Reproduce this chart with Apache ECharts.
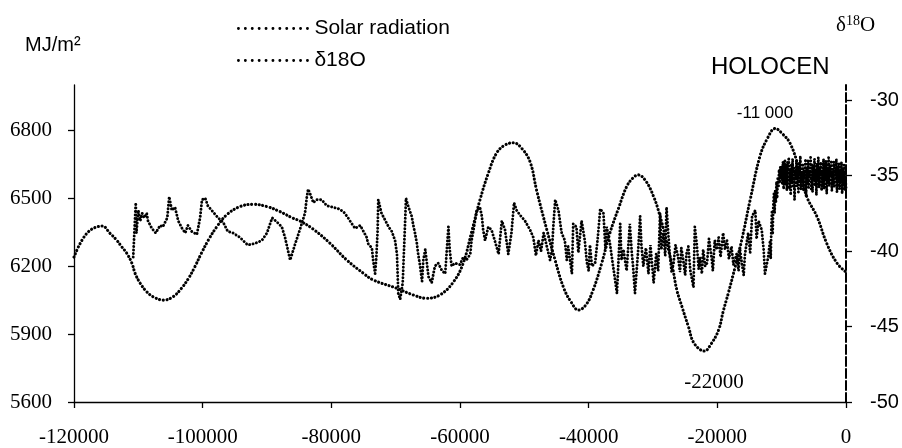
<!DOCTYPE html>
<html>
<head>
<meta charset="utf-8">
<script src="https://cdn.jsdelivr.net/npm/echarts@6/dist/echarts.min.js"></script>
<style>
  html, body { margin: 0; padding: 0; background: #fff; }
  #chart { width: 902px; height: 448px; }
</style>
</head>
<body>
<div id="chart"></div>
<script>
// Time axis (years before present)
const yearMin = -120000;
const yearMax = 0;
const yearStep = 20000;

// Left axis: solar radiation, MJ/m²
const radiationMin = 5600;
const radiationMax = 7000;
const radiationTicks = [5600, 5900, 6200, 6500, 6800];

// Right axis: δ18O, ‰
const isotopeMin = -50;
const isotopeMax = -29;
const isotopeTicks = [-50, -45, -40, -35, -30];

// Solar radiation curve [year, MJ/m²]
const solarRadiation = [
  [-120000, 6240], [-118000, 6345], [-115600, 6377], [-114400, 6345], [-113400, 6316],
  [-112600, 6286], [-111800, 6257], [-111000, 6213], [-110500, 6168], [-109700, 6124],
  [-108700, 6087], [-107700, 6065], [-106100, 6050], [-104600, 6065], [-103300, 6102],
  [-102200, 6146], [-101200, 6198], [-100200, 6257], [-99100, 6316], [-97800, 6374],
  [-96300, 6426], [-94200, 6463], [-92100, 6473], [-90000, 6463], [-88000, 6441],
  [-85900, 6411], [-84900, 6400], [-82800, 6363], [-80200, 6301], [-77600, 6227],
  [-75000, 6168], [-73500, 6139], [-69800, 6102], [-67300, 6073], [-65200, 6058],
  [-63100, 6073], [-61000, 6131], [-59500, 6213], [-58200, 6350], [-56900, 6492],
  [-55600, 6610], [-54300, 6700], [-53000, 6735], [-51700, 6745], [-50400, 6720],
  [-49100, 6660], [-48100, 6536], [-46500, 6360], [-45200, 6225], [-43900, 6105],
  [-42700, 6040], [-41600, 6006], [-40400, 6030], [-39300, 6095], [-38000, 6210],
  [-36700, 6346], [-35300, 6460], [-34100, 6551], [-33100, 6590], [-32300, 6603],
  [-31100, 6575], [-29900, 6507], [-29000, 6430], [-28000, 6320], [-27000, 6200],
  [-26300, 6095], [-25500, 6021], [-24500, 5933], [-23600, 5859], [-22000, 5825],
  [-21000, 5855], [-19800, 5918], [-19100, 5999], [-18300, 6080], [-17200, 6200],
  [-16200, 6316], [-14900, 6492], [-13400, 6683], [-12200, 6765], [-11000, 6808],
  [-9900, 6785], [-8700, 6743], [-7400, 6640], [-6100, 6507], [-4500, 6418],
  [-3000, 6301], [-1400, 6213], [0, 6174]
];

// δ18O record, glacial part [year, ‰]
const isotopeGlacial = [
  [-110800, -40.4], [-110400, -36.8], [-110300, -38.8], [-110000, -37.3], [-109700, -38.0],
  [-109400, -37.5], [-109100, -37.8], [-108700, -37.5], [-108500, -38.0], [-107900, -38.5],
  [-107300, -38.8], [-106600, -38.3], [-106200, -38.4], [-105500, -37.8], [-105200, -36.4],
  [-104800, -37.3], [-104300, -37.1], [-103800, -38.0], [-103200, -38.5], [-102700, -38.8],
  [-102300, -38.3], [-101700, -38.7], [-100900, -38.9], [-100400, -37.8], [-100100, -36.6],
  [-99600, -36.5], [-99200, -37.0], [-98400, -37.4], [-97600, -37.8], [-96800, -38.1],
  [-96100, -38.7], [-95300, -38.8], [-94200, -39.1], [-93000, -39.6], [-91900, -39.5],
  [-90800, -39.3], [-90000, -38.8], [-89200, -37.8], [-88400, -38.1], [-87700, -38.4],
  [-87200, -39.1], [-86400, -40.6], [-85600, -39.5], [-84900, -38.6], [-84100, -37.5],
  [-83800, -36.4], [-83600, -35.9], [-83300, -36.2], [-82800, -36.8], [-82300, -36.6],
  [-81500, -36.6], [-80700, -37.0], [-79700, -37.1], [-78900, -37.2], [-78100, -37.4],
  [-77400, -37.8], [-76800, -38.2], [-76300, -38.5], [-75500, -38.3], [-75000, -38.7],
  [-74500, -39.1], [-74300, -39.5], [-73700, -39.8], [-73500, -40.6], [-73200, -41.5],
  [-73000, -40.4], [-72800, -38.6], [-72700, -36.6], [-72200, -37.5], [-71700, -37.9],
  [-71100, -38.4], [-70600, -38.7], [-70100, -39.3], [-69800, -40.2], [-69700, -41.5],
  [-69600, -42.8], [-69300, -43.2], [-68900, -42.1], [-68700, -39.9], [-68500, -37.7],
  [-68400, -36.5], [-68000, -37.1], [-67500, -37.7], [-67300, -38.2], [-67000, -38.8],
  [-66700, -39.5], [-66500, -40.2], [-66200, -41.0], [-65900, -42.0], [-65700, -40.6],
  [-65400, -39.9], [-65200, -40.6], [-64900, -41.7], [-64400, -42.1], [-63900, -41.0],
  [-63400, -40.8], [-62800, -41.3], [-62300, -41.5], [-61800, -38.4], [-61600, -39.9],
  [-61300, -41.0], [-60800, -40.8], [-60000, -40.9], [-59500, -40.4], [-59000, -40.6],
  [-58400, -40.2], [-58200, -39.3], [-57900, -38.6], [-57400, -37.3], [-56900, -37.1],
  [-56600, -37.7], [-56400, -38.6], [-56100, -39.3], [-55600, -38.4], [-55100, -38.6],
  [-54600, -39.3], [-54000, -40.2], [-53500, -38.0], [-53000, -38.6], [-52500, -40.2],
  [-52000, -38.8], [-51600, -36.8], [-51200, -37.3], [-50700, -37.6], [-49900, -38.0],
  [-49100, -38.6], [-48600, -39.1], [-48200, -40.3], [-47800, -39.3], [-47400, -40.0],
  [-47000, -38.8], [-46500, -39.7], [-46000, -40.6], [-45700, -39.9], [-45500, -38.4],
  [-45200, -36.6], [-44700, -37.3], [-44200, -38.8], [-43700, -39.3], [-43400, -40.6],
  [-43200, -39.7], [-42600, -41.5], [-42400, -38.2], [-41900, -38.4], [-41600, -40.1],
  [-41300, -38.8], [-41100, -38.0], [-40600, -39.3], [-40300, -40.7], [-40000, -41.3],
  [-39800, -39.6], [-39500, -41.0], [-39000, -40.8], [-38600, -39.2], [-38200, -37.2],
  [-37700, -37.5], [-37400, -39.8], [-37200, -38.4], [-36700, -39.5], [-36200, -41.0],
  [-35600, -42.8], [-35100, -38.2], [-34900, -40.6], [-34600, -39.9], [-34100, -41.3],
  [-33600, -38.2], [-33300, -40.1], [-33100, -41.0], [-32800, -42.8], [-32300, -39.9],
  [-32000, -37.7], [-31800, -39.6], [-31500, -41.0], [-31100, -39.8], [-30700, -41.5],
  [-30400, -39.6], [-29900, -42.1], [-29500, -40.2], [-29200, -41.3], [-28900, -37.5],
  [-28700, -39.9], [-28400, -38.8], [-28100, -40.3], [-27900, -37.1], [-27600, -39.0],
  [-27400, -40.2], [-27100, -41.4], [-26800, -40.8], [-26500, -39.6], [-26100, -40.4],
  [-25800, -41.4], [-25600, -39.8], [-25300, -40.6], [-25000, -41.6], [-24800, -40.2],
  [-24500, -39.7], [-24200, -41.3], [-23700, -42.4], [-23500, -38.4], [-23200, -39.5],
  [-22900, -41.2], [-22700, -40.4], [-22400, -41.5], [-22200, -39.9], [-21900, -41.0],
  [-21600, -40.8], [-21300, -39.2], [-20900, -40.4], [-20700, -41.3], [-20400, -39.3],
  [-20100, -39.9], [-19800, -39.1], [-19500, -40.4], [-19100, -38.8], [-18800, -39.9],
  [-18500, -39.3], [-18200, -40.5], [-17800, -39.7], [-17500, -40.9], [-17000, -40.2],
  [-16700, -41.3], [-16500, -39.8], [-16200, -40.8], [-15900, -41.6], [-15700, -40.2],
  [-15200, -38.8], [-14900, -40.1], [-14600, -37.7], [-14100, -37.3], [-13900, -39.2],
  [-13600, -38.0], [-13100, -38.6], [-12800, -39.9], [-12600, -41.5], [-12100, -40.4],
  [-11800, -39.3], [-11700, -40.5], [-11600, -38.5], [-11500, -37.3], [-11400, -38.9],
  [-11300, -37.0], [-11200, -36.2], [-11100, -37.5], [-11000, -36.0], [-10900, -36.8],
  [-10800, -35.4], [-10700, -36.5], [-10600, -35.1], [-10500, -35.8], [-10400, -34.6],
  [-10300, -35.5], [-10200, -34.4], [-10100, -35.2], [-10000, -34.4], [-9900, -35.6],
  [-9800, -34.1], [-9700, -35.9], [-9600, -34.3]
];

// δ18O record, Holocene part [year, ‰]
const isotopeHolocene = [
  [-9500, -34.0], [-9400, -35.6], [-9300, -34.3], [-9200, -36.0], [-9100, -34.1],
  [-9000, -35.3], [-8900, -33.8], [-8800, -35.9], [-8700, -34.6], [-8600, -36.3],
  [-8500, -34.2], [-8400, -35.4], [-8300, -33.9], [-8200, -35.8], [-8100, -34.5],
  [-8000, -36.6], [-7900, -34.7], [-7800, -35.1], [-7700, -34.0], [-7600, -35.7],
  [-7500, -34.4], [-7400, -36.2], [-7300, -34.1], [-7200, -35.5], [-7100, -33.7],
  [-7000, -35.9], [-6900, -34.8], [-6800, -35.3], [-6700, -34.2], [-6600, -36.0],
  [-6500, -34.6], [-6400, -35.2], [-6300, -33.9], [-6200, -36.4], [-6100, -34.5],
  [-6000, -35.6], [-5900, -34.0], [-5800, -35.8], [-5700, -34.7], [-5600, -35.1],
  [-5500, -33.8], [-5400, -35.9], [-5300, -34.3], [-5200, -36.1], [-5100, -34.4],
  [-5000, -35.4], [-4900, -33.9], [-4800, -35.7], [-4700, -34.6], [-4600, -36.3],
  [-4500, -34.2], [-4400, -35.2], [-4300, -33.8], [-4200, -35.8], [-4100, -34.5],
  [-4000, -35.0], [-3900, -34.1], [-3800, -36.0], [-3700, -34.8], [-3600, -35.5],
  [-3500, -33.9], [-3400, -35.9], [-3300, -34.4], [-3200, -35.3], [-3100, -34.0],
  [-3000, -36.2], [-2900, -34.6], [-2800, -35.4], [-2700, -33.8], [-2600, -35.7],
  [-2500, -34.3], [-2400, -35.1], [-2300, -34.0], [-2200, -36.0], [-2100, -34.7],
  [-2000, -35.6], [-1900, -34.1], [-1800, -35.8], [-1700, -34.5], [-1600, -35.2],
  [-1500, -33.9], [-1400, -36.1], [-1300, -34.4], [-1200, -35.5], [-1100, -34.2],
  [-1000, -35.9], [-900, -34.8], [-800, -35.3], [-700, -34.1], [-600, -36.2],
  [-500, -34.6], [-400, -35.7], [-300, -34.3], [-200, -36.0], [-100, -34.9],
  [0, -35.8]
];

const SERIF = "'Liberation Serif', 'Times New Roman', serif";
const SANS = "'Liberation Sans', Arial, sans-serif";

// dotted strokes: tiny dashes with round caps become dots
const dotStyle = (width, gap) => ({
  color: '#000', width: width, type: [0.1, gap], cap: 'round'
});

// plain numbers, no thousands separators
const plain = (v) => String(v);

const chart = echarts.init(document.getElementById('chart'), null, { renderer: 'canvas' });

chart.setOption({
  animation: false,
  backgroundColor: '#fff',
  grid: { left: 74, right: 56, top: 85, bottom: 46, containLabel: false },
  legend: {
    orient: 'vertical',
    left: 237,
    top: 18,
    padding: 0,
    itemWidth: 71,
    itemHeight: 14,
    itemGap: 11,
    selectedMode: false,
    textStyle: { fontFamily: SANS, fontSize: 21, color: '#000' },
    lineStyle: { type: [0.1, 6.8], width: 2.8, cap: 'round', color: '#000' },
    itemStyle: { opacity: 0 },
    data: ['Solar radiation', 'δ18O']
  },
  xAxis: {
    type: 'value',
    min: yearMin,
    max: yearMax,
    interval: yearStep,
    axisLine: { show: true, onZero: false, lineStyle: { color: '#000', width: 1.3 } },
    axisTick: { show: true, inside: false, length: 6, lineStyle: { color: '#000', width: 1.3 } },
    axisLabel: { formatter: plain, fontFamily: SERIF, fontSize: 21, color: '#000', margin: 25 },
    splitLine: { show: false }
  },
  yAxis: [
    {
      type: 'value',
      position: 'left',
      min: radiationMin,
      max: radiationMax,
      axisLine: { show: true, onZero: false, lineStyle: { color: '#000', width: 1.3 } },
      axisTick: { show: true, inside: false, length: 6, customValues: radiationTicks,
                  lineStyle: { color: '#000', width: 1.3 } },
      axisLabel: { customValues: radiationTicks, formatter: plain, fontFamily: SERIF,
                   fontSize: 21, color: '#000', margin: 22 },
      splitLine: { show: false }
    },
    {
      type: 'value',
      position: 'right',
      min: isotopeMin,
      max: isotopeMax,
      axisLine: { show: true, onZero: false,
                  lineStyle: { color: '#000', width: 2, type: [9, 3] } },
      axisTick: { show: true, inside: false, length: 6, customValues: isotopeTicks,
                  lineStyle: { color: '#000', width: 1.3 } },
      axisLabel: { customValues: isotopeTicks, formatter: plain, fontFamily: SANS,
                   fontSize: 20, color: '#000', margin: 24 },
      splitLine: { show: false }
    }
  ],
  series: [
    {
      name: 'Solar radiation',
      type: 'line',
      yAxisIndex: 0,
      data: solarRadiation,
      smooth: 0.4,
      symbol: 'none',
      lineStyle: dotStyle(3.1, 3.6),
      z: 3
    },
    {
      name: 'δ18O',
      type: 'line',
      yAxisIndex: 1,
      data: isotopeGlacial.concat(isotopeHolocene),
      smooth: false,
      symbol: 'none',
      lineStyle: dotStyle(2.9, 3.4),
      z: 2
    }
  ],
  graphic: [
    {
      type: 'text', x: 25, y: 45,
      style: { text: 'MJ/m²', font: '20px ' + SANS, fill: '#000',
               align: 'left', verticalAlign: 'middle' }
    },
    {
      type: 'text', x: 836, y: 25,
      style: {
        text: '{a|δ}{b|18}{a|O}',
        fill: '#000', align: 'left', verticalAlign: 'middle',
        rich: {
          a: { fontFamily: SERIF, fontSize: 21, fill: '#000', lineHeight: 22 },
          b: { fontFamily: SERIF, fontSize: 14, fill: '#000', verticalAlign: 'top', lineHeight: 22 }
        }
      }
    },
    {
      type: 'text', x: 711, y: 67,
      style: { text: 'HOLOCEN', font: '24px ' + SANS, fill: '#000',
               align: 'left', verticalAlign: 'middle' }
    },
    {
      type: 'text', x: 765, y: 113,
      style: { text: '-11 000', font: '17px ' + SANS, fill: '#000',
               align: 'center', verticalAlign: 'middle' }
    },
    {
      type: 'text', x: 714, y: 382,
      style: { text: '-22000', font: '21px ' + SERIF, fill: '#000',
               align: 'center', verticalAlign: 'middle' }
    }
  ]
});
</script>
</body>
</html>
